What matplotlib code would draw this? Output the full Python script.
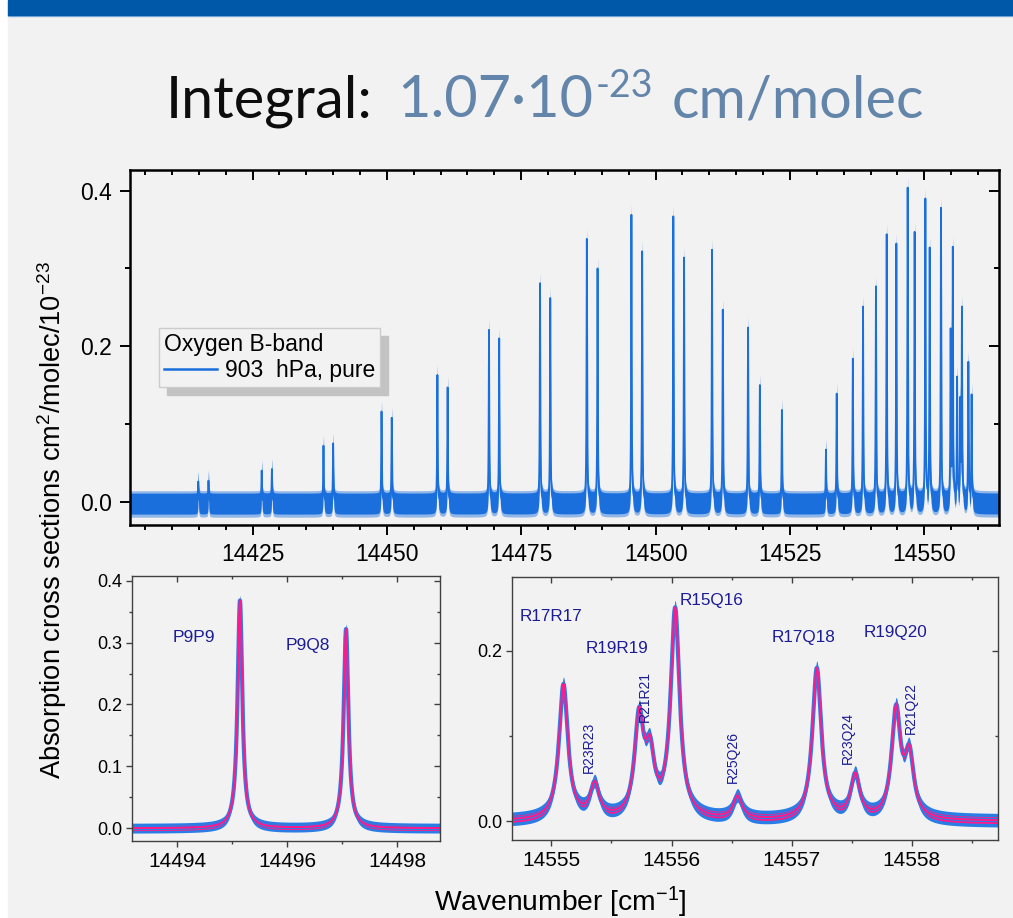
import numpy as np
import matplotlib.pyplot as plt
from matplotlib.patches import Rectangle
from matplotlib.lines import Line2D
from matplotlib.ticker import MultipleLocator, FormatStrFormatter, NullFormatter

plt.rcParams['font.family'] = ['Liberation Sans', 'DejaVu Sans']
plt.rcParams['mathtext.fontset'] = 'custom'
plt.rcParams['mathtext.rm'] = 'Liberation Sans'
plt.rcParams['mathtext.it'] = 'Liberation Sans:italic'
plt.rcParams['mathtext.bf'] = 'Liberation Sans:bold'

# whole band, 903 hPa pure O2: line centre [cm-1] and peak cross section [1e-23 cm2/molec]
band_pos = [14414.9, 14416.8, 14426.7, 14428.6, 14438.2, 14440.0, 14449.0, 14450.9,
            14459.4, 14461.3, 14469.0, 14470.9, 14478.5, 14480.4, 14487.2, 14489.2,
            14495.5, 14497.5, 14503.3, 14505.3, 14510.5, 14512.5, 14517.2, 14519.4,
            14523.5, 14531.7, 14533.7, 14536.7, 14538.6, 14541.0, 14543.0, 14544.8,
            14546.9, 14548.2, 14550.2, 14551.0, 14553.1, 14554.9, 14555.3, 14556.1,
            14556.7, 14557.0, 14558.2, 14558.8]
band_peak = [0.026, 0.027, 0.040, 0.042, 0.072, 0.075, 0.116, 0.108,
             0.163, 0.147, 0.221, 0.210, 0.281, 0.262, 0.338, 0.300,
             0.369, 0.322, 0.367, 0.314, 0.324, 0.247, 0.224, 0.150,
             0.118, 0.067, 0.139, 0.184, 0.251, 0.277, 0.344, 0.332,
             0.404, 0.347, 0.390, 0.327, 0.378, 0.223, 0.328, 0.161,
             0.135, 0.251, 0.180, 0.138]
band_hwhm = 0.06
band_noise = (-0.016, 0.011)

# P-branch detail
p_pos = [14495.14, 14497.07]
p_peak = [0.368, 0.322]
p_names = ['P9P9', 'P9Q8']
p_hwhm = 0.052

# R-branch head detail
r_pos = [14555.10, 14555.36, 14555.73, 14555.82, 14556.03,
         14556.55, 14557.21, 14557.53, 14557.87, 14557.98]
r_peak = [0.161, 0.047, 0.134, 0.101, 0.251,
          0.030, 0.180, 0.057, 0.137, 0.090]
r_names = ['R17R17', 'R23R23', 'R19R19', 'R21R21', 'R15Q16',
           'R25Q26', 'R17Q18', 'R23Q24', 'R19Q20', 'R21Q22']
r_hwhm = 0.045
detail_noise = 0.008
fit_noise = 0.004

W, H = 1013, 918
BLUE = '#1a6fdc'
MEAS = '#2b7de6'
FIT = '#ff1a8c'
NAVY = '#1c1c96'


def profile(x, pos, peak, hwhm):
    pos = np.asarray(pos)
    peak = np.asarray(peak)

    def shape(d):
        return 1.0 / (1.0 + (d / hwhm) ** 2)

    # amplitudes so the summed Lorentzians reach the peak values at each centre
    amp = np.linalg.solve(shape(pos[:, None] - pos[None, :]), peak)
    return shape(x[:, None] - pos[None, :]) @ amp


def px_rect(left, top, right, bottom):
    return [left / W, 1 - bottom / H, (right - left) / W, (bottom - top) / H]


def style_axes(ax, xmaj, xmin, ymaj, ymin, yfmt, spine_lw, spine_col,
               tick_lw, maj_len, min_len, xsize, ysize, xpad, ypad):
    for s in ax.spines.values():
        s.set_linewidth(spine_lw)
        s.set_edgecolor(spine_col)
    ax.set_facecolor('none')
    ax.xaxis.set_major_locator(MultipleLocator(xmaj))
    ax.xaxis.set_minor_locator(MultipleLocator(xmin))
    ax.yaxis.set_major_locator(MultipleLocator(ymaj))
    ax.yaxis.set_minor_locator(MultipleLocator(ymin))
    ax.yaxis.set_major_formatter(FormatStrFormatter(yfmt))
    ax.xaxis.set_major_formatter(FormatStrFormatter('%d'))
    ax.tick_params(which='both', direction='out', top=False, right=False,
                   width=tick_lw, color=spine_col)
    ax.tick_params(which='major', length=maj_len)
    ax.tick_params(which='minor', length=min_len)
    ax.tick_params(axis='x', labelsize=xsize, pad=xpad)
    ax.tick_params(axis='y', labelsize=ysize, pad=ypad)
    # inward ticks on the opposite sides
    top = ax.secondary_xaxis('top')
    right = ax.secondary_yaxis('right')
    for sec, axis in ((top, top.xaxis), (right, right.yaxis)):
        axis.set_major_locator(MultipleLocator(xmaj if sec is top else ymaj))
        axis.set_minor_locator(MultipleLocator(xmin if sec is top else ymin))
        axis.set_major_formatter(NullFormatter())
        sec.tick_params(which='both', direction='in', width=tick_lw, color=spine_col)
        sec.tick_params(which='major', length=maj_len)
        sec.tick_params(which='minor', length=min_len)
        for s in sec.spines.values():
            s.set_visible(False)


fig = plt.figure(figsize=(W / 100, H / 100), dpi=100)
fig.patch.set_facecolor('white')
fig.add_artist(Rectangle((8 / W, 0), 1, 1, transform=fig.transFigure,
                         color='#f2f2f2', zorder=-10))
fig.add_artist(Rectangle((8 / W, 1 - 14.5 / H), 1, 14.5 / H, transform=fig.transFigure,
                         color='#0059a8', zorder=-5))
fig.add_artist(Rectangle((8 / W, 1 - 16 / H), 1, 1.5 / H, transform=fig.transFigure,
                         color='#8ab4e0', zorder=-6))

# ---- whole band ----
ax = fig.add_axes(px_rect(130, 170, 999, 525))
x = np.arange(14402.2, 14564.0, 0.004)
y = profile(x, band_pos, band_peak, band_hwhm)
ax.fill_between(x, y + band_noise[0] - 0.004, y + band_noise[1] + 0.003,
                color=BLUE, alpha=0.45, lw=0)
ax.fill_between(x, y + band_noise[0], y + band_noise[1], color=BLUE, lw=0)
ax.plot(x, y, color=BLUE, lw=1.3)
ax.set_xlim(14402.2, 14563.9)
ax.set_ylim(-0.030, 0.4266)
style_axes(ax, 25, 5, 0.2, 0.1, '%.1f', 1.8, 'black', 1.4, 7, 3.5,
           16.5, 16.5, 6, 6)
handle = Line2D([], [], color=BLUE, lw=1.8)
ax.legend([handle], ['903  hPa, pure'], title='Oxygen B-band', alignment='left',
          loc='upper left', bbox_to_anchor=(0.0334, 0.555), borderaxespad=0,
          fontsize=16.5, title_fontsize=16.5, fancybox=False, framealpha=1,
          facecolor='#f2f2f2', edgecolor='#cccccc',
          shadow={'ox': 6, 'oy': -6, 'color': '#c3c3c3', 'alpha': 1},
          handlelength=2.3, handletextpad=0.35, borderpad=0.22, labelspacing=0.12)

# ---- P-branch detail ----
axp = fig.add_axes(px_rect(131.7, 575.7, 440, 840.7))
xp = np.arange(14493.1, 14498.9, 0.002)
yp = profile(xp, p_pos, p_peak, p_hwhm)
axp.fill_between(xp, yp - detail_noise, yp + detail_noise, color=MEAS, lw=0)
axp.plot(xp, yp, color=MEAS, lw=3)
axp.fill_between(xp, yp - fit_noise, yp + fit_noise, color=FIT, lw=0)
axp.plot(xp, yp, color=FIT, lw=1.5)
axp.set_xlim(14493.17, 14498.78)
axp.set_ylim(-0.020, 0.408)
style_axes(axp, 2, 1, 0.1, 0.05, '%.1f', 1.0, '#404040', 1.0, 4, 2.5,
           15, 13, 4, 3)
for name, (fx, fy) in zip(p_names, [(0.202, 0.765), (0.571, 0.738)]):
    axp.text(fx, fy, name, transform=axp.transAxes, color=NAVY, fontsize=12.5,
             ha='center', va='center')

# ---- R-branch head detail ----
axr = fig.add_axes(px_rect(512.3, 576.7, 997.7, 840))
xr = np.arange(14554.6, 14558.8, 0.002)
yr = profile(xr, r_pos, r_peak, r_hwhm)
axr.fill_between(xr, yr - detail_noise, yr + detail_noise, color=MEAS, lw=0)
axr.plot(xr, yr, color=MEAS, lw=3)
axr.fill_between(xr, yr - fit_noise, yr + fit_noise, color=FIT, lw=0)
axr.plot(xr, yr, color=FIT, lw=1.5)
axr.set_xlim(14554.674, 14558.716)
axr.set_ylim(-0.0223, 0.2869)
style_axes(axr, 1, 0.5, 0.2, 0.1, '%.1f', 1.0, '#404040', 1.0, 4, 2.5,
           15, 13, 4, 3)
label_spots = {'R17R17': (0.080, 0.848, 0), 'R23R23': (0.158, 0.353, 90),
               'R19R19': (0.216, 0.728, 0), 'R21R21': (0.273, 0.546, 90),
               'R15Q16': (0.411, 0.909, 0), 'R25Q26': (0.455, 0.314, 90),
               'R17Q18': (0.600, 0.770, 0), 'R23Q24': (0.691, 0.389, 90),
               'R19Q20': (0.789, 0.789, 0), 'R21Q22': (0.821, 0.500, 90)}
for name in r_names:
    fx, fy, rot = label_spots[name]
    axr.text(fx, fy, name, transform=axr.transAxes, color=NAVY,
             fontsize=12.3 if rot == 0 else 10, rotation=rot,
             ha='center', va='center')

# ---- shared labels ----
fig.text(52 / W, 1 - 520 / H, 'Absorption cross sections cm$^2$/molec/10$^{-23}$',
         rotation=90, ha='center', va='center', fontsize=19.6)
fig.text(560 / W, 1 - 911 / H, 'Wavenumber [cm$^{-1}$]', ha='center', va='baseline',
         fontsize=20.3)

# ---- title, assembled piece by piece ----
STEEL = '#6485aa'
pieces = [('Integral:', '#0d0d0d', 41.5, 0, 24),
          ('1.07·10', STEEL, 41.5, 0, 3),
          ('-23', STEEL, 27, 20, 18),
          ('cm/molec', STEEL, 41.5, 0, 0)]
renderer = fig.canvas.get_renderer()
texts, widths = [], []
for s, c, fs, dy, gap in pieces:
    t = fig.text(0, 0, s, color=c, fontsize=fs, family='Lato', ha='left', va='baseline')
    texts.append(t)
    widths.append(t.get_window_extent(renderer).width)
total = sum(widths) + sum(p[4] for p in pieces)
xpos = 545 - total / 2
for t, w, (s, c, fs, dy, gap) in zip(texts, widths, pieces):
    t.set_position((xpos / W, 1 - (117 - dy) / H))
    xpos += w + gap

fig.savefig('out.png', dpi=100)
